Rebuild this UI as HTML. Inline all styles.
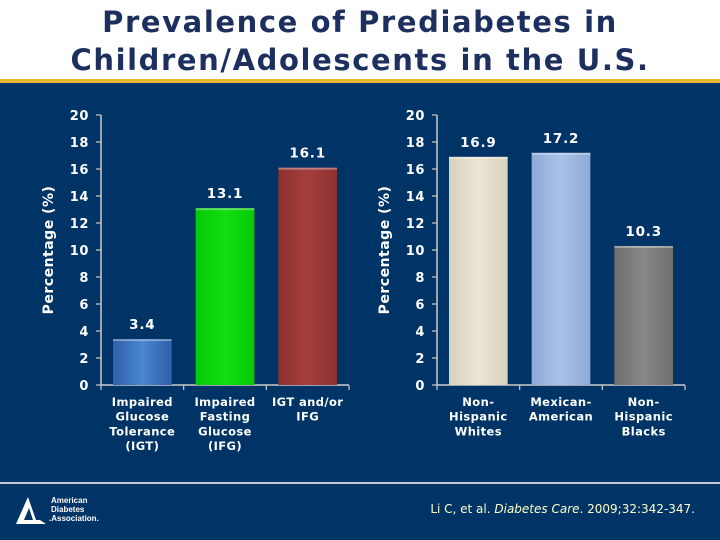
<!DOCTYPE html>
<html><head><meta charset="utf-8"><style>
body{margin:0;width:720px;height:540px;overflow:hidden;background:#003466;font-family:"DejaVu Sans","Liberation Sans",sans-serif}
#top{position:absolute;left:0;top:0;width:720px;height:79px;background:#fff}
#gold{position:absolute;left:0;top:79px;width:720px;height:4px;background:#e8b92e}
#title{position:absolute;left:0;top:3px;width:720px;text-align:center;font-weight:bold;font-size:29px;line-height:38px;color:#1c2f5e;letter-spacing:1.6px}
</style></head><body>
<div id="top"></div>
<div id="gold"></div>
<div id="title">Prevalence of Prediabetes in<br>Children/Adolescents in the U.S.</div>
<svg id="c" width="720" height="540" style="position:absolute;left:0;top:0">
<defs>
<linearGradient id="gb" x1="0" x2="1"><stop offset="0" stop-color="#2f5fa8"/><stop offset=".5" stop-color="#4a86d2"/><stop offset="1" stop-color="#2f5fa8"/></linearGradient>
<linearGradient id="gg" x1="0" x2="1"><stop offset="0" stop-color="#06c806"/><stop offset=".5" stop-color="#10e010"/><stop offset="1" stop-color="#06c806"/></linearGradient>
<linearGradient id="gr" x1="0" x2="1"><stop offset="0" stop-color="#8f3030"/><stop offset=".5" stop-color="#a43f3f"/><stop offset="1" stop-color="#8f3030"/></linearGradient>
<linearGradient id="gw" x1="0" x2="1"><stop offset="0" stop-color="#d8d2bc"/><stop offset=".5" stop-color="#ebe6d4"/><stop offset="1" stop-color="#d8d2bc"/></linearGradient>
<linearGradient id="gl" x1="0" x2="1"><stop offset="0" stop-color="#8eaad8"/><stop offset=".5" stop-color="#a8c2e8"/><stop offset="1" stop-color="#8eaad8"/></linearGradient>
<linearGradient id="gk" x1="0" x2="1"><stop offset="0" stop-color="#6e6e6e"/><stop offset=".5" stop-color="#888"/><stop offset="1" stop-color="#6e6e6e"/></linearGradient>
</defs>
<line x1="0" y1="483" x2="720" y2="483" stroke="#fff" stroke-width="1.5"/>
<g id="left"></g><g id="right"></g>
<g>
<polygon points="28,497 36,520 40,520 46,524 16,524" fill="#fff"/>
<polygon points="29,508 33,520 24,520" fill="#003466"/>
<text x="51" y="503" fill="#fff" font-size="8" font-weight="bold" font-family="Liberation Sans, sans-serif">American</text>
<text x="51" y="512" fill="#fff" font-size="8" font-weight="bold" font-family="Liberation Sans, sans-serif">Diabetes</text>
<text x="49" y="521" fill="#fff" font-size="8" font-weight="bold" font-family="Liberation Sans, sans-serif">.Association.</text>
</g>
<text x="695" y="513" text-anchor="end" fill="#ffffc8" font-size="12" font-family="DejaVu Sans, sans-serif">Li C, et al. <tspan font-style="italic">Diabetes Care</tspan>. 2009;32:342-347.</text>
</svg>
<script>
const leftCats=[["Impaired","Glucose","Tolerance","(IGT)"],["Impaired","Fasting","Glucose","(IFG)"],["IGT and/or","IFG"]];
const leftVals=[3.4,13.1,16.1];
const leftFills=["url(#gb)","url(#gg)","url(#gr)"];
const rightCats=[["Non-","Hispanic","Whites"],["Mexican-","American"],["Non-","Hispanic","Blacks"]];
const rightVals=[16.9,17.2,10.3];
const rightFills=["url(#gw)","url(#gl)","url(#gk)"];
const yTicks=[0,2,4,6,8,10,12,14,16,18,20];
const NS="http://www.w3.org/2000/svg";
function mk(p,t,a){const e=document.createElementNS(NS,t);for(const k in a)e.setAttribute(k,a[k]);p.appendChild(e);return e;}
function draw(g,ax,cats,vals,fills,prefix){
  const y0=385,y1=115,w=248,ymax=20;
  const y=v=>y0-(v/ymax)*(y0-y1);
  const band=w/cats.length;
  const al=mk(g,'line',{x1:ax,y1:y1,x2:ax,y2:y0,stroke:'#ccc','stroke-width':1.5});
  
  
  const xl=mk(g,'line',{x1:ax,y1:y0,x2:ax+w,y2:y0,stroke:'#ccc','stroke-width':1.5});
  
  
  yTicks.forEach(t=>{
    mk(g,'line',{x1:ax-5,y1:y(t),x2:ax,y2:y(t),stroke:'#ccc','stroke-width':1.2});
    const tx=mk(g,'text',{x:ax-12,y:y(t)+5,'text-anchor':'end',fill:'#fff','font-size':13,'font-weight':'bold','letter-spacing':0.6});
    tx.textContent=t;
    
    
  });
  for(let i=0;i<=cats.length;i++) mk(g,'line',{x1:ax+i*band,y1:y0,x2:ax+i*band,y2:y0+5,stroke:'#ccc','stroke-width':1.2});
  const yt=mk(g,'text',{x:0,y:0,transform:`translate(${ax-48},${(y0+y1)/2}) rotate(-90)`,'text-anchor':'middle',fill:'#fff','font-size':14,'font-weight':'bold','letter-spacing':0.5});
  yt.textContent='Percentage (%)';
  
  
  cats.forEach((c,i)=>{
    const bw=band*0.71,bx=ax+i*band+(band-bw)/2;
    const r=mk(g,'rect',{x:bx,y:y(vals[i]),width:bw,height:y0-y(vals[i]),fill:fills[i]});
    
    
    mk(g,'rect',{x:bx,y:y(vals[i]),width:bw,height:2,fill:'rgba(255,255,255,0.35)'});
    const v=mk(g,'text',{x:bx+bw/2,y:y(vals[i])-10,'text-anchor':'middle',fill:'#fff','font-size':13.5,'font-weight':'bold','letter-spacing':0.8});
    v.textContent=vals[i].toFixed(1);
    
    
    const lab=mk(g,'text',{x:bx+bw/2,y:406,'text-anchor':'middle',fill:'#fff','font-size':11.5,'font-weight':'bold','letter-spacing':0.4});
    
    
    c.forEach((s,j)=>{const ts=mk(lab,'tspan',{x:bx+bw/2,dy:j?14.7:0});ts.textContent=s;});
  });
}
draw(document.getElementById('left'),101,leftCats,leftVals,leftFills,'left');
draw(document.getElementById('right'),437,rightCats,rightVals,rightFills,'right');
</script>
</body></html>
